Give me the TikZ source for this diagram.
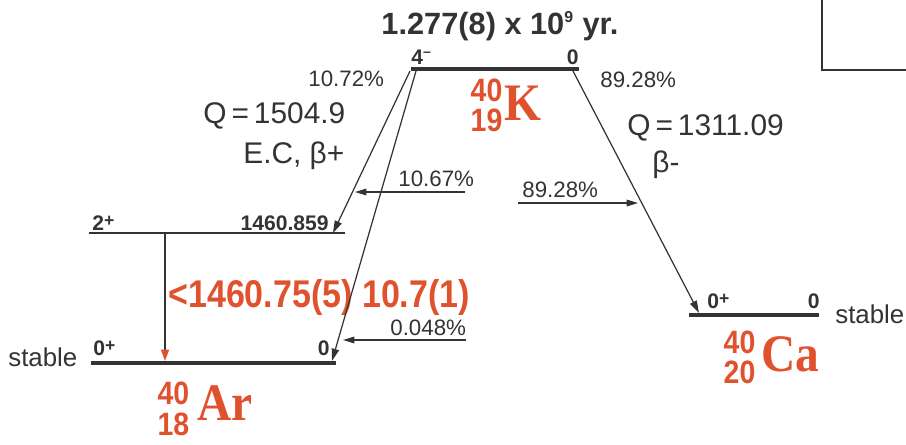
\documentclass[tikz,border=0pt]{standalone}
\usepackage{fontspec}
\setmainfont{Liberation Sans}
\newfontfamily\elemfont[FakeStretch=0.9]{Liberation Serif}
\newfontfamily\numfont[FakeStretch=0.88]{Liberation Sans}
\usepackage{xcolor}
\usepackage{tikz}
\usetikzlibrary{arrows.meta, positioning}
\definecolor{nucred}{HTML}{E0522E}
\definecolor{inkgray}{HTML}{333333}
\newcommand{\plussup}{\raisebox{0.35ex}{\fontsize{10}{10}\selectfont+}}

\begin{document}
\begin{tikzpicture}[x=0.02cm, y=-0.02cm, inkgray,
		level/.style={line width=2.3pt},
		thinlevel/.style={line width=1.1pt},
		decay/.style={line width=0.7pt, -{Triangle[length=7pt, width=4.2pt]}},
		feed/.style={line width=0.7pt, -{Triangle[length=6.5pt, width=3.8pt]}},
		pct/.style={inner sep=0pt, anchor=base west, font=\fontsize{12.7}{14}\selectfont},
		spin/.style={inner sep=0pt, font=\bfseries\fontsize{12}{13}\selectfont},
		qval/.style={inner sep=0pt, anchor=base west, font=\fontsize{17}{19}\selectfont},
		stab/.style={inner sep=0pt, anchor=base west, font=\fontsize{14.7}{16}\selectfont},
		massnum/.style={inner sep=0pt, text=nucred, font=\numfont\bfseries\fontsize{18.4}{18}\selectfont},
		elem/.style={inner sep=0pt, anchor=west, text=nucred, font=\elemfont\bfseries\fontsize{30}{30}\selectfont}]
	\useasboundingbox (0,0) rectangle (906,444);
	% Levels and frame:
	\coordinate (frame-t) at (822,0);
	\coordinate (frame-c) at (822,70);
	\coordinate (frame-r) at (906,70);
	\draw[line width=1.5pt] (frame-t) -- (frame-c) -- (frame-r);
	\coordinate (k-l) at (411,69);
	\coordinate (k-r) at (579,69);
	\draw[level] (k-l) -- (k-r);
	\coordinate (ex-l) at (89,233);
	\coordinate (ex-r) at (345,233);
	\draw[thinlevel] (ex-l) -- (ex-r);
	\coordinate (ar-l) at (91,363);
	\coordinate (ar-r) at (336,363);
	\draw[level] (ar-l) -- (ar-r);
	\coordinate (ca-l) at (689,315);
	\coordinate (ca-r) at (819,315);
	\draw[level] (ca-l) -- (ca-r);
	% Labels:
	\node[inner sep=0pt, anchor=base, font=\bfseries\fontsize{17.5}{20}\selectfont] (halflife) at (500,34) {1.277(8) x 10\textsuperscript{\fontsize{9}{9}\selectfont 9} yr.};
	\node[spin, anchor=base west] (k-spin) at (411,64) {4\textsuperscript{\textendash}};
	\node[spin, anchor=base east] (k-en) at (579,64) {0};
	\node[spin, anchor=base west] (ex-spin) at (92,230) {2\plussup};
	\node[spin, anchor=base east] (ex-en) at (329,230) {1460.859};
	\node[spin, anchor=base west] (ar-spin) at (93,355) {0\plussup};
	\node[spin, anchor=base east] (ar-en) at (330,355) {0};
	\node[spin, anchor=base west] (ca-spin) at (707,308) {0\plussup};
	\node[spin, anchor=base east] (ca-en) at (820,308) {0};
	\node[stab] (ar-stab) at (8,366) {stable};
	\node[stab] (ca-stab) at (835,323) {stable};
	\node[pct] (br-ec) at (308,86) {10.72\%};
	\node[pct] (br-bm) at (600,87) {89.28\%};
	\node[qval] (q-ec) at (203,123) {Q\,=\,1504.9};
	\node[qval] (mode-ec) at (243,163) {E.C, β+};
	\node[qval] (q-bm) at (627,135) {Q\,=\,1311.09};
	\node[qval] (mode-bm) at (652,172) {β-};
	\node[pct] (feed-ex) at (398,186) {10.67\%};
	\node[pct] (feed-ca) at (522,197) {89.28\%};
	\node[pct] (feed-gs) at (390,335) {0.048\%};
	\node[inner sep=0pt, anchor=base west, text=nucred, font=\numfont\bfseries\fontsize{22}{24}\selectfont] (gamma-lab) at (168,307) {<1460.75(5) 10.7(1)};
	% Nuclides:
	\node[massnum] (k-a) at (486.5,90) {40};
	\node[massnum, below=4pt of k-a] (k-z) {19};
	\node[elem, right=1pt of k-a.south east, yshift=-1pt] (k-sym) {K};
	\node[massnum] (ar-a) at (173.5,393.5) {40};
	\node[massnum, below=4pt of ar-a] (ar-z) {18};
	\node[elem, right=4pt of ar-a.south east, yshift=1pt] (ar-sym) {Ar};
	\node[massnum] (ca-a) at (739.5,342.5) {40};
	\node[massnum, below=3.5pt of ca-a] (ca-z) {20};
	\node[elem, right=3pt of ca-a.south east] (ca-sym) {Ca};
	% Transitions:
	\coordinate (d1-s) at (410,71);
	\coordinate (d1-e) at (333,233);
	\coordinate (d2-s) at (416,71);
	\coordinate (d2-e) at (332,361);
	\coordinate (d3-s) at (573,71);
	\coordinate (d3-e) at (699,313);
	\draw[decay] (d1-s) -- (d1-e);
	\draw[decay] (d2-s) -- (d2-e);
	\draw[decay] (d3-s) -- (d3-e);
	\coordinate (g-s) at (165,234);
	\coordinate (g-e) at (165,361);
	\draw[line width=1pt, -{Triangle[length=6.5pt, width=4.5pt, nucred]}] (g-s) -- (g-e);
	\coordinate (f1-s) at (465,192);
	\coordinate (f1-e) at (355,192);
	\coordinate (f2-s) at (518,203);
	\coordinate (f2-e) at (638,203);
	\coordinate (f3-s) at (466,340);
	\coordinate (f3-e) at (343,340);
	\draw[feed] (f1-s) -- (f1-e);
	\draw[feed] (f2-s) -- (f2-e);
	\draw[feed] (f3-s) -- (f3-e);
\end{tikzpicture}
\end{document}
